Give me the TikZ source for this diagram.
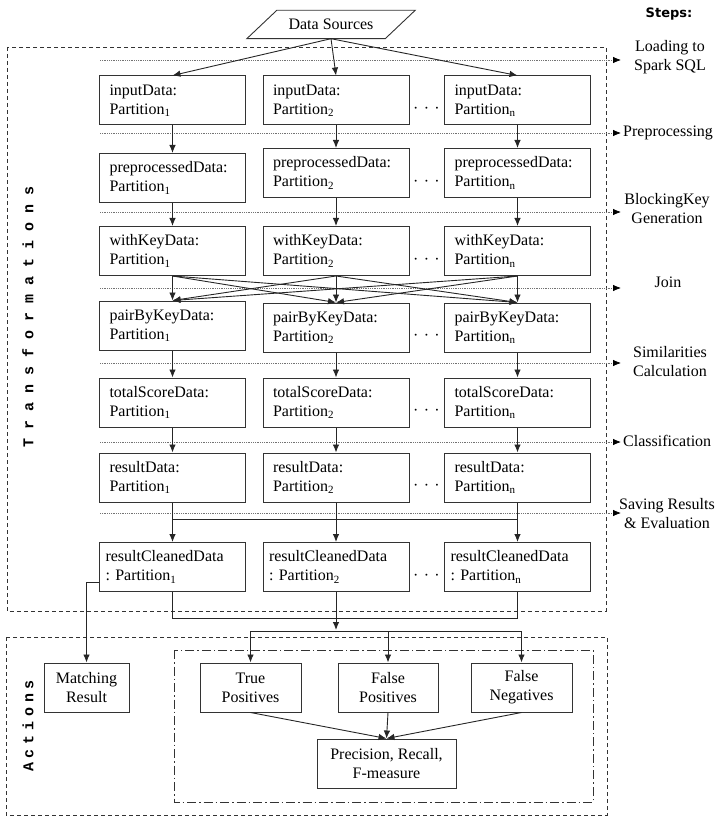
\documentclass[tikz,border=0pt]{standalone}
\usepackage{fontspec}
\setmainfont{Liberation Serif}
\newfontfamily\stepsfont{DejaVu Sans}
\newfontfamily\monofnt{Liberation Mono}
\usetikzlibrary{arrows.meta,calc}
\newcommand{\sub}[1]{\raisebox{-0.3ex}{\fontsize{11}{11}\selectfont #1}}
\frenchspacing
\begin{document}
\begin{tikzpicture}[x=1pt,y=-1pt,
  every node/.style={font=\fontsize{16}{19}\selectfont},
  dbox/.style={draw=black!80, line width=1pt, minimum width=146pt, minimum height=49pt,
    inner xsep=10pt, inner ysep=2pt, text width=126pt, align=left},
  abox/.style={draw=black!80, line width=1pt, minimum height=49pt, align=center, inner sep=2pt},
  arr/.style={line width=0.9pt, draw=black!85, -{Latex[length=8pt,width=6.5pt]}},
  conn/.style={line width=0.9pt, draw=black!85},
  sepline/.style={draw=black!55, line width=0.8pt, densely dotted, -{Latex[length=8pt,width=6.5pt,color=black]}},
  outerbox/.style={draw=black!80, line width=0.9pt, dash pattern=on 4pt off 3pt},
  innerbox/.style={draw=black!80, line width=0.9pt, dash pattern=on 9pt off 3pt on 1.5pt off 3pt},
  dotsnode/.style={inner sep=0pt}
]
\useasboundingbox (0,0) rectangle (717,818);

% Data sources
\node[minimum width=138pt, minimum height=28pt, inner sep=0pt] (ds) at (331,24.5) {Data Sources};
\draw[line width=0.9pt, draw=black!80] ($(ds.north west)+(15,0)$) -- ($(ds.north east)+(15,0)$)
  -- ($(ds.south east)+(-15,0)$) -- ($(ds.south west)+(-15,0)$) -- cycle;

% Steps header
\node[font=\stepsfont\bfseries\fontsize{13}{15}\selectfont] (steps) at (669,14) {Steps:};

% outer boxes
\draw[outerbox] (7,47) rectangle (606,611);
\draw[outerbox] (6,637) rectangle (607,815);
\draw[innerbox] (174,650) rectangle (593,802);

% vertical labels
\node[rotate=90, font=\monofnt\bfseries\fontsize{15}{15}\selectfont] (tlabel) at (28,317) {T r a n s f o r m a t i o n s};
\node[rotate=90, font=\monofnt\bfseries\fontsize{15}{15}\selectfont] (alabel) at (28,726)
  {A\hspace{4.8pt}c\hspace{4.8pt}t\hspace{4.8pt}i\hspace{4.8pt}o\hspace{4.8pt}n\hspace{4.8pt}s};

% step separators and labels
\node[align=center] (s1) at (670,57) {Loading to\\Spark SQL};
\node[anchor=west, inner sep=0pt] (s2) at (623,133) {Preprocessing};
\node[align=center] (s3) at (667,209) {BlockingKey\\Generation};
\node (s4) at (668,282) {Join};
\node[align=center] (s5) at (670,362) {Similarities\\Calculation};
\node[anchor=west, inner sep=0pt] (s6) at (623,441) {Classification};
\node[align=center] (s7) at (667,514) {Saving Results\\\& Evaluation};

\foreach \yy/\nm in {60/a,133/b,212/c,288/d,363/e,442/f,513/g}{
  \coordinate (sepL\nm) at (100,\yy);
  \coordinate (sepR\nm) at (621,\yy);
  \draw[sepline] (sepL\nm) -- (sepR\nm);
}

% row 1
\node[dbox] (r1c1) at (172.5,100.5) {inputData:\\Partition\sub{1}};
\node[dbox] (r1c2) at (336,100.5) {inputData:\\Partition\sub{2}};
\node[dbox] (r1c3) at (517.5,100.5) {inputData:\\Partition\sub{n}};
% row 2
\node[dbox] (r2c1) at (172.5,178) {preprocessedData:\\Partition\sub{1}};
\node[dbox] (r2c2) at (336,173) {preprocessedData:\\Partition\sub{2}};
\node[dbox] (r2c3) at (517.5,173) {preprocessedData:\\Partition\sub{n}};
% row 3
\node[dbox] (r3c1) at (172.5,251) {withKeyData:\\Partition\sub{1}};
\node[dbox] (r3c2) at (336,251) {withKeyData:\\Partition\sub{2}};
\node[dbox] (r3c3) at (517.5,251) {withKeyData:\\Partition\sub{n}};
% row 4
\node[dbox] (r4c1) at (172.5,325.5) {pairByKeyData:\\Partition\sub{1}};
\node[dbox] (r4c2) at (336,327.5) {pairByKeyData:\\Partition\sub{2}};
\node[dbox] (r4c3) at (517.5,327.5) {pairByKeyData:\\Partition\sub{n}};
% row 5
\node[dbox] (r5c1) at (172.5,402.5) {totalScoreData:\\Partition\sub{1}};
\node[dbox] (r5c2) at (336,402.5) {totalScoreData:\\Partition\sub{2}};
\node[dbox] (r5c3) at (517.5,402.5) {totalScoreData:\\Partition\sub{n}};
% row 6
\node[dbox] (r6c1) at (172.5,477.5) {resultData:\\Partition\sub{1}};
\node[dbox] (r6c2) at (336,477.5) {resultData:\\Partition\sub{2}};
\node[dbox] (r6c3) at (517.5,477.5) {resultData:\\Partition\sub{n}};
% row 7
\node[dbox, inner xsep=6pt, text width=134pt] (r7c1) at (172.5,567) {resultCleanedData\\: Partition\sub{1}};
\node[dbox, inner xsep=6pt, text width=134pt] (r7c2) at (336,567) {resultCleanedData\\: Partition\sub{2}};
\node[dbox, inner xsep=6pt, text width=134pt] (r7c3) at (517.5,567) {resultCleanedData\\: Partition\sub{n}};

% dots
\foreach \yy/\k in {110/1,183/2,261/3,337/4,412/5,487/6,577/7}{
  \node[dotsnode] (dots\k) at (426.5,\yy) {·\,\,·\,\,·};
}

% data sources arrows
\foreach \c in {1,2,3}{ \draw[arr] (ds.south) -- (r1c\c.north); }
% vertical flow
\foreach \c in {1,2,3}{
  \draw[arr] (r1c\c.south) -- (r2c\c.north);
  \draw[arr] (r2c\c.south) -- (r3c\c.north);
  \draw[arr] (r4c\c.south) -- (r5c\c.north);
  \draw[arr] (r5c\c.south) -- (r6c\c.north);
  \draw[arr] (r6c\c.south) -- (r7c\c.north);
}
% join crossings
\foreach \a in {1,2,3}{
  \foreach \b in {1,2,3}{
    \draw[arr] (r3c\a.south) -- (r4c\b.north);
  }
}
% saving bar
\coordinate (sbar) at (0,519);
\draw[conn] (r6c1.south |- sbar) -- (r6c3.south |- sbar);

% bottom collection
\coordinate (cbar) at (0,618);
\coordinate (dbar) at (0,631);
\draw[conn] (r7c1.south) -- (r7c1.south |- cbar) -- (r7c3.south |- cbar) -- (r7c3.south);
\coordinate (split) at (336,630);
\draw[arr] (r7c2.south) -- (split);

% actions boxes
\node[abox, minimum width=85pt] (mr) at (86.5,687.5) {Matching\\Result};
\node[abox, minimum width=101pt] (tp) at (250.5,687.5) {True\\Positives};
\node[abox, minimum width=100pt] (fp) at (388,687.5) {False\\Positives};
\node[abox, minimum width=101pt] (fn) at (521.5,687.5) {False\\Negatives};
\node[abox, minimum width=139pt] (pr) at (386.5,763.5) {Precision, Recall,\\F-measure};

\draw[conn] (tp.north |- dbar) -- (fn.north |- dbar);
\draw[arr] (tp.north |- dbar) -- (tp.north);
\draw[arr] (fp.north |- dbar) -- (fp.north);
\draw[arr] (fn.north |- dbar) -- (fn.north);

\draw[arr] (tp.south) -- (pr.north);
\draw[arr] (fp.south) -- (pr.north);
\draw[arr] (fn.south) -- (pr.north);

% matching result
\coordinate (mstub) at ($(r7c1.south west)+(0,-10)$);
\draw[arr] (mstub) -- (mr.north |- mstub) -- (mr.north);
\end{tikzpicture}
\end{document}
